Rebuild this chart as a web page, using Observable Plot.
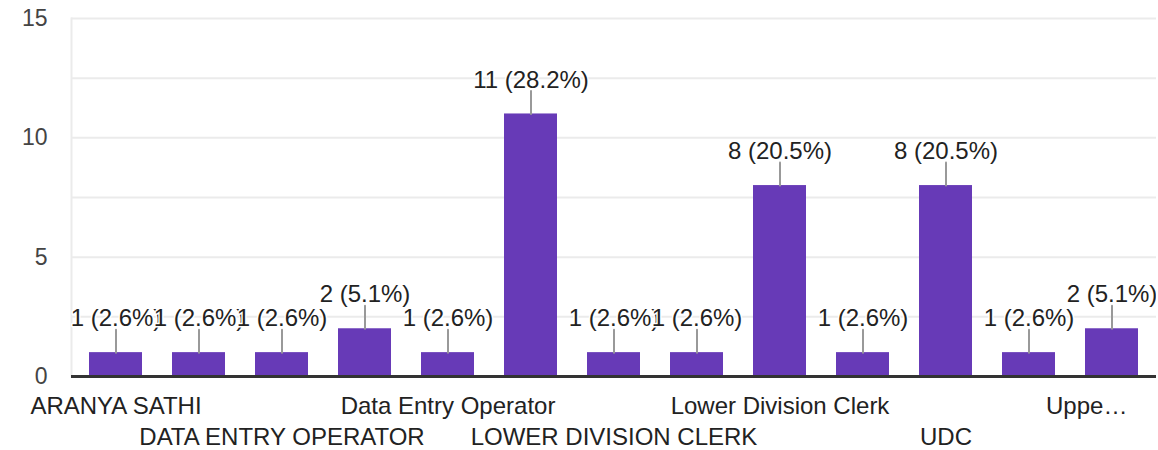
<!DOCTYPE html>
<html>
<head>
<meta charset="utf-8">
<script src="https://cdn.jsdelivr.net/npm/d3@7"></script>
<script src="https://cdn.jsdelivr.net/npm/@observablehq/plot@0.6"></script>
<style>
  html, body { margin: 0; padding: 0; background: #fff; }
  #chart { width: 1158px; height: 450px; }
</style>
</head>
<body>
<div id="chart"></div>
<script>
const categories = [
  "ARANYA SATHI", "Clerk", "DATA ENTRY OPERATOR", "DEO", "Data Entry Operator",
  "LDC", "LOWER DIVISION CLERK", "Lower Division Assistant", "Lower Division Clerk",
  "Stenographer", "UDC", "UPPER DIVISION CLERK", "Upper Division Clerk"
];
const counts = [1, 1, 1, 2, 1, 11, 1, 1, 8, 1, 8, 1, 2];
const valueLabels = [
  "1 (2.6%)", "1 (2.6%)", "1 (2.6%)", "2 (5.1%)", "1 (2.6%)", "11 (28.2%)",
  "1 (2.6%)", "1 (2.6%)", "8 (20.5%)", "1 (2.6%)", "8 (20.5%)", "1 (2.6%)", "2 (5.1%)"
];
const tickLabels = [
  "ARANYA SATHI", "", "DATA ENTRY OPERATOR", "", "Data Entry Operator", "",
  "LOWER DIVISION CLERK", "", "Lower Division Clerk", "", "UDC", "", "Uppe…"
];
const yTicks = [0, 5, 10, 15];
const gridTicks = [0, 2.5, 5, 7.5, 10, 12.5, 15];

const data = categories.map((c, i) => ({
  category: c, count: counts[i], label: valueLabels[i], tick: tickLabels[i], idx: i
}));
const labelled = data.filter(d => d.tick !== "");
const row1 = labelled.filter((d, k) => k % 2 === 0 && d.idx !== categories.length - 1);
const row2 = labelled.filter((d, k) => k % 2 === 1);
const lastLabel = labelled.filter(d => d.idx === categories.length - 1);

const font = "'Liberation Sans', Arial, sans-serif";
const leader = {
  draw(context, l) { context.moveTo(0, 0); context.lineTo(0, -l); }
};

const chart = Plot.plot({
  width: 1158,
  height: 450,
  marginLeft: 71,
  marginRight: 2,
  marginTop: 18,
  marginBottom: 74,
  style: { fontFamily: font, fontSize: "24px", background: "#fff", overflow: "visible" },
  x: { domain: categories, paddingInner: 0.36, paddingOuter: 0.2, axis: null },
  y: { domain: [0, 15], axis: null },
  marks: [
    Plot.gridY(gridTicks, { stroke: "#ebebeb", strokeOpacity: 1, strokeWidth: 2 }),
    Plot.frame({ anchor: "left", stroke: "#ebebeb", strokeWidth: 2 }),
    Plot.barY(data, { x: "category", y: "count", fill: "#673ab7" }),
    Plot.ruleY([0], { stroke: "#333", strokeWidth: 3 }),
    Plot.vector(data, { x: "category", y: "count", length: 23, anchor: "start", shape: leader, stroke: "#999", strokeWidth: 2 }),
    Plot.text(data, {
      x: "category", y: "count", text: "label", dy: -34, fontSize: 24, clip: true,
      fill: "#222", stroke: "white", strokeWidth: 3, paintOrder: "stroke"
    }),
    Plot.axisY(yTicks, { tickSize: 0, tickPadding: 24, fontSize: 23, color: "#444", label: null }),
    Plot.text(row1, { x: "category", text: "tick", frameAnchor: "bottom", dy: 37, fontSize: 24, fill: "#222" }),
    Plot.text(row2, { x: "category", text: "tick", frameAnchor: "bottom", dy: 68, fontSize: 24, fill: "#222" }),
    Plot.text(lastLabel, { x: "category", text: "tick", frameAnchor: "bottom", dy: 37, dx: -66, textAnchor: "start", fontSize: 24, fill: "#222" })
  ]
});
document.getElementById("chart").appendChild(chart);
</script>
</body>
</html>
